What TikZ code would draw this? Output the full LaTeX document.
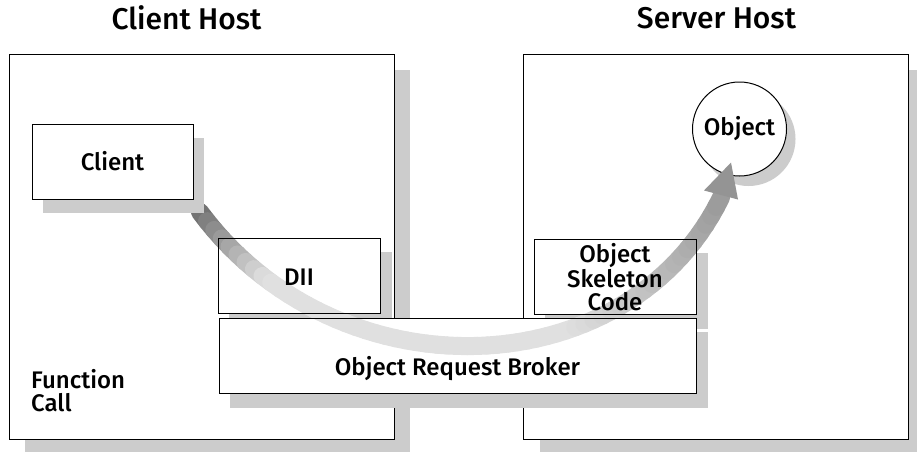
\documentclass[tikz,border=0pt]{standalone}
\usepackage{fontspec}
\setmainfont{Fira Sans}[BoldFont={Fira Sans Medium}]
\usepackage{xcolor}
\usetikzlibrary{positioning, shadows}

\pgfdeclarelayer{frente}
\pgfsetlayers{main,frente}

\newcommand{\fonteCorpo}{\fontsize{24}{23}\selectfont\bfseries}
\newcommand{\fonteTitulo}{\fontsize{30}{32}\selectfont\bfseries}

\tikzset{
  host/.style={draw, fill=white, line width=1pt, inner sep=0pt,
    minimum width=385pt, minimum height=385pt,
    drop shadow={shadow xshift=16pt, shadow yshift=-16pt, fill=black!20, opacity=1}},
  caixa/.style={draw, line width=1pt, inner sep=0pt, align=center,
    minimum width=162pt, minimum height=75pt, font=\fonteCorpo},
  titulo/.style={font=\fonteTitulo},
  rotulo/.style={font=\fonteCorpo, align=left}
}

% sombra e fundo branco de uma caixa
\newcommand{\sombra}[1]{%
  \fill[black!20] ([shift={(11,14)}]#1.north west) rectangle ([shift={(11,14)}]#1.south east);
  \fill[white] (#1.north west) rectangle (#1.south east);}

\begin{document}
\begin{tikzpicture}[x=1pt, y=-1pt]

\useasboundingbox (0,0) rectangle (917,451);
\clip (0,0) rectangle (917,451);

% Titulos
\node[titulo] (tcliente) at (186.5,18) {Client Host};
\node[titulo] (tservidor) at (716.5,18) {Server Host};

% Maquinas
\node[host] (cliente) at (201.5,246.5) {};
\node[host] (servidor) at (716,246.5) {};

% Caixas por cima da seta
\begin{pgfonlayer}{frente}
\node[caixa, text height=20pt, text depth=0pt] (dii) at (299,275.5) {DII};
\node[caixa] (esqueleto) at (615,277) {Object\\Skeleton\\Code};
\node[caixa, minimum width=477pt, text height=40pt, text depth=0pt]
  (orb) at (457.5,355.5) {Object Request Broker};
\end{pgfonlayer}

\sombra{dii}
\sombra{esqueleto}
\sombra{orb}

% Objeto
\node[circle, draw, fill=white, line width=1pt, minimum size=94pt, inner sep=0pt,
  font=\fonteCorpo, drop shadow={shadow xshift=9pt, shadow yshift=-10pt, fill=black!20, opacity=1}]
  (objeto) at (739.5,129) {Object};

% Seta (chamada)
\coordinate (ini) at (200,212);
\coordinate (fim) at ([shift={(-18.5,21)}]objeto.south);
\coordinate (ponta) at ([shift={(-8.5,-14)}]objeto.south);
\foreach \i in {0,...,60} {
  \pgfmathsetmacro\t{\i/60}
  \path (ini) .. controls (338,398) and (628,388) .. (fim) coordinate[pos=\t] (c\i);
}
\foreach \i [evaluate=\i as \j using int(\i+1),
  evaluate=\i as \d using {12+43*max(0,1-\i/60/0.14)+28*max(0,(\i/60-0.65)/0.35)}] in {0,...,59}
  \draw[line width=18pt, line cap=round, black!\d] (c\i) -- (c\j);
\fill[black!42] (ponta) -- ([shift={(-17,-7)}]fim) -- ([shift={(17,2)}]fim) -- cycle;

% Cliente
\node[caixa, fill=white, minimum width=161pt,
  drop shadow={shadow xshift=11pt, shadow yshift=-14pt, fill=black!20, opacity=1}]
  (client) at (112.5,161.5) {Client};

% Chamada de funcao
\node[rotulo, anchor=west, inner sep=0pt] (funcao) at (31,391) {Function\\Call};

\end{tikzpicture}
\end{document}
